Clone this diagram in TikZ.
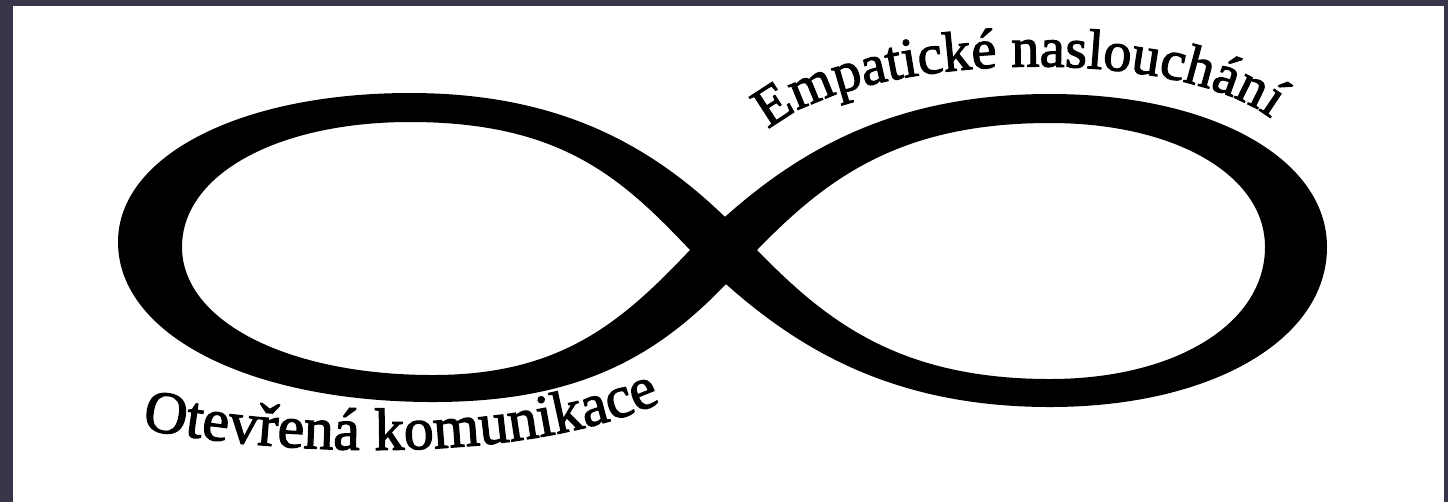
\documentclass[tikz,border=0pt]{standalone}
\usepackage{fontspec}
\newfontfamily\captionfont[FakeBold=2]{Liberation Serif}
\usepackage{tikz}
\usetikzlibrary{decorations.text}
\definecolor{framedark}{HTML}{38354A}
\tikzstyle{ring} = [fill=black, even odd rule]
\tikzstyle{curvetext} = [decorate, decoration={text along path, text align=center}]

\begin{document}
\begin{tikzpicture}[x=0.01cm, y=-0.01cm]
  \fill[framedark] (0,0) rectangle (1448,502);
  \fill[white] (13,6) rectangle (1444,502);
  \useasboundingbox (0,0) rectangle (1448,502);
  % left loop
  \fill[ring] (757,250) .. controls (676,161) and (580,93) .. (410,93)
    .. controls (240,93) and (118,156) .. (118,242)
    .. controls (118,335) and (250,402) .. (433,402)
    .. controls (603,402) and (679,340) .. cycle
    (690,250) .. controls (621,177) and (560,122) .. (410,122)
    .. controls (278,122) and (182,174) .. (182,247)
    .. controls (182,321) and (287,375) .. (433,375)
    .. controls (560,375) and (621,323) .. cycle;
  % right loop
  \fill[ring] (690,250) .. controls (775,165) and (875,94) .. (1050,94)
    .. controls (1211,94) and (1327,158) .. (1327,247)
    .. controls (1327,340) and (1211,407) .. (1050,407)
    .. controls (875,407) and (775,335) .. cycle
    (757,250) .. controls (827,178) and (900,123) .. (1050,123)
    .. controls (1175,123) and (1265,175) .. (1265,247)
    .. controls (1265,324) and (1175,379) .. (1050,379)
    .. controls (900,379) and (827,322) .. cycle;
  % labels
  \path[curvetext, decoration={text={|\captionfont\fontsize{17}{19}\selectfont|Otevřená komunikace}}]
    (148,430) .. controls (300,458) and (520,462) .. (655,405);
  \path[curvetext, decoration={text={|\captionfont\fontsize{16}{18}\selectfont|Empatické naslouchání}}]
    (760,138) .. controls (840,50) and (1190,40) .. (1280,126);
\end{tikzpicture}
\end{document}
